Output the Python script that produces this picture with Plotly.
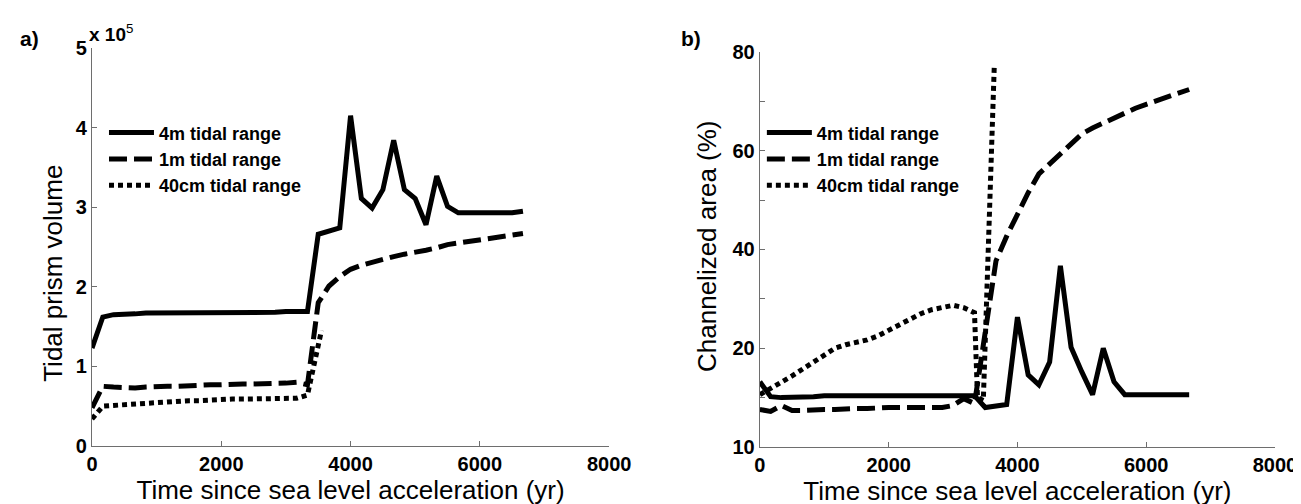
import numpy as np
import plotly.graph_objects as go

# ---------------- data ----------------
time_yr = [0, 167, 333, 500, 667, 833, 1000, 1167, 1333, 1500, 1667, 1833, 2000,
           2167, 2333, 2500, 2667, 2833, 3000, 3167, 3333, 3500, 3667, 3833, 4000,
           4167, 4333, 4500, 4667, 4833, 5000, 5167, 5333, 5500, 5667, 5833, 6000,
           6167, 6333, 6500, 6667]

# panel a) tidal prism volume (x 1e5)
prism_4m = [1.23, 1.62, 1.65, 1.65, 1.66, 1.67, 1.67, 1.67, 1.67, 1.67, 1.67, 1.67,
            1.68, 1.68, 1.68, 1.68, 1.68, 1.68, 1.69, 1.69, 1.69, 2.66, 2.70, 2.74,
            4.15, 3.11, 2.99, 3.22, 3.84, 3.22, 3.11, 2.78, 3.39, 3.01, 2.93, 2.93,
            2.93, 2.93, 2.93, 2.93, 2.95]
prism_1m = [0.48, 0.75, 0.74, 0.73, 0.73, 0.74, 0.75, 0.75, 0.75, 0.76, 0.76, 0.77,
            0.77, 0.78, 0.78, 0.78, 0.78, 0.79, 0.79, 0.80, 0.77, 1.80, 2.01, 2.13,
            2.22, 2.27, 2.31, 2.35, 2.38, 2.41, 2.43, 2.46, 2.49, 2.53, 2.55, 2.57,
            2.59, 2.61, 2.63, 2.65, 2.67]
time_40cm_a = time_yr[:21] + [3550]
prism_40cm = [0.34, 0.50, 0.51, 0.52, 0.53, 0.54, 0.55, 0.56, 0.56, 0.57, 0.57, 0.58,
              0.58, 0.59, 0.59, 0.59, 0.59, 0.59, 0.59, 0.60, 0.64, 1.45]

# panel b) channelized area (%)
chan_4m = [16.6, 15.1, 15.0, 15.0, 15.0, 15.1, 15.2, 15.2, 15.2, 15.2, 15.2, 15.2,
           15.2, 15.2, 15.2, 15.2, 15.2, 15.2, 15.2, 15.2, 15.2, 14.0, 14.15, 14.3,
           26.3, 17.3, 16.3, 18.6, 36.7, 20.2, 17.6, 15.3, 20.0, 16.6, 15.3, 15.3,
           15.3, 15.3, 15.3, 15.3, 15.3]
chan_1m = [13.8, 13.6, 14.2, 13.7, 13.7, 13.8, 13.8, 13.8, 13.9, 13.9, 13.9, 14.0,
           14.0, 14.0, 14.0, 14.0, 14.0, 14.0, 14.2, 14.9, 14.4, 22.6, 37.7, 42.7,
           47.1, 51.5, 55.3, 57.3, 59.6, 61.3, 63.4, 64.6, 65.6, 66.8, 67.6, 68.6,
           69.4, 70.2, 71.0, 71.8, 72.4]
time_40cm_b = time_yr[:21] + [3380, 3470, 3640]
chan_40cm = [15.3, 15.9, 16.5, 17.2, 17.9, 18.6, 19.2, 20.0, 20.7, 21.2, 21.7, 22.5,
             23.6, 24.9, 26.0, 27.0, 27.8, 28.3, 28.7, 28.2, 27.2, 15.0, 14.7, 77.0]

series_names = ["4m tidal range", "1m tidal range", "40cm tidal range"]
x_ticks = [0, 2000, 4000, 6000, 8000]
prism_ticks = [0, 1, 2, 3, 4, 5]
chan_tick_labels = [10, 20, 40, 60, 80]   # equally spaced ticks on panel b)

# panel b) y axis: labels equally spaced -> piecewise scale
chan_tick_pos = list(range(len(chan_tick_labels)))
def chan_scale(v):
    return np.interp(v, chan_tick_labels, chan_tick_pos)

def bold(vals):
    return ["<b>%s</b>" % v for v in vals]

# ---------------- figure ----------------
W, H = 1301, 504
ML, MR, MT, MB = 84, 32, 40, 61
PW, PH = W - ML - MR, H - MT - MB
def px(x):
    return (x - ML) / PW
def py(y):
    return (H - MB - y) / PH

FONT = "Liberation Sans, Arial, sans-serif"
dashes = ["solid", "18px,7px", "5px,4px"]
LW = 5

fig = go.Figure()
left_sets = [(time_yr, prism_4m), (time_yr, prism_1m), (time_40cm_a, prism_40cm)]
right_sets = [(time_yr, chan_4m), (time_yr, chan_1m), (time_40cm_b, chan_40cm)]
for i, (xs, ys) in enumerate(left_sets):
    fig.add_trace(go.Scatter(x=xs, y=ys, mode="lines", name=series_names[i],
                             line=dict(color="black", width=LW, dash=dashes[i]),
                             xaxis="x", yaxis="y", legend="legend"))
for i, (xs, ys) in enumerate(right_sets):
    fig.add_trace(go.Scatter(x=xs, y=chan_scale(ys), mode="lines", name=series_names[i],
                             line=dict(color="black", width=LW, dash=dashes[i]),
                             xaxis="x2", yaxis="y2", legend="legend2",
                             customdata=ys, hovertemplate="%{x}, %{customdata}%<extra></extra>"))

axis_common = dict(showline=True, linecolor="#6e6e6e", linewidth=1.3,
                   ticks="inside", ticklen=5, tickcolor="#6e6e6e", tickwidth=1,
                   showgrid=False, zeroline=False, mirror=False,
                   tickfont=dict(family=FONT, size=20, color="black", weight="bold"))

x1_dom = [0, px(602)]
x2_dom = [px(753), 1]
title_font = dict(family=FONT, size=26, color="black")
fig.update_layout(
    width=W, height=H,
    margin=dict(l=ML, r=MR, t=MT, b=MB),
    paper_bgcolor="white", plot_bgcolor="white",
    font=dict(family=FONT, color="black"),
    xaxis=dict(domain=x1_dom, range=[0, 8000], tickvals=x_ticks, ticktext=bold(x_ticks),
               anchor="y",
               title=dict(text="Time since sea level acceleration (yr)",
                          font=title_font, standoff=6),
               **axis_common),
    yaxis=dict(domain=[py(442), py(40)], range=[0, 5], tickvals=prism_ticks,
               ticktext=bold(prism_ticks), anchor="x",
               **axis_common),
    xaxis2=dict(domain=x2_dom, range=[0, 8000], tickvals=x_ticks, ticktext=bold(x_ticks),
                anchor="y2",
                title=dict(text="Time since sea level acceleration (yr)",
                           font=title_font, standoff=6),
                **axis_common),
    yaxis2=dict(domain=[py(443), py(44)], range=[0, len(chan_tick_labels) - 1],
                tickvals=chan_tick_pos, ticktext=bold(chan_tick_labels),
                anchor="x2",
                minor=dict(tickvals=[p + 0.5 for p in chan_tick_pos[:-1]], ticks="inside",
                           ticklen=5, tickcolor="#6e6e6e", showgrid=False),
                **axis_common),
    legend=dict(x=px(96), y=py(107), xanchor="left", yanchor="top",
                bgcolor="rgba(0,0,0,0)", tracegroupgap=0, itemwidth=45,
                font=dict(family=FONT, size=18, color="black", weight="bold")),
    legend2=dict(x=px(755), y=py(107), xanchor="left", yanchor="top",
                 bgcolor="rgba(0,0,0,0)", tracegroupgap=0, itemwidth=45,
                 font=dict(family=FONT, size=18, color="black", weight="bold")),
    showlegend=True,
)

annots = [
    dict(text="<b>a)</b>", x=px(21), y=py(30), size=21),
    dict(text="<b>b)</b>", x=px(684), y=py(30), size=21),
    dict(text="<b>x 10</b><sup>5</sup>", x=px(103), y=py(25), size=19),
]
for a in annots:
    fig.add_annotation(text=a["text"], x=a["x"], y=a["y"], xref="paper", yref="paper",
                       showarrow=False, xanchor="center", yanchor="middle",
                       font=dict(family=FONT, size=a["size"], color="black"))
fig.add_annotation(text="Tidal prism volume", x=px(45), y=py(268), xref="paper", yref="paper",
                   showarrow=False, textangle=-90, xanchor="center", yanchor="middle",
                   font=title_font)
fig.add_annotation(text="Channelized area (%)", x=px(700), y=py(240), xref="paper", yref="paper",
                   showarrow=False, textangle=-90, xanchor="center", yanchor="middle",
                   font=title_font)

fig.write_html("out.html")
